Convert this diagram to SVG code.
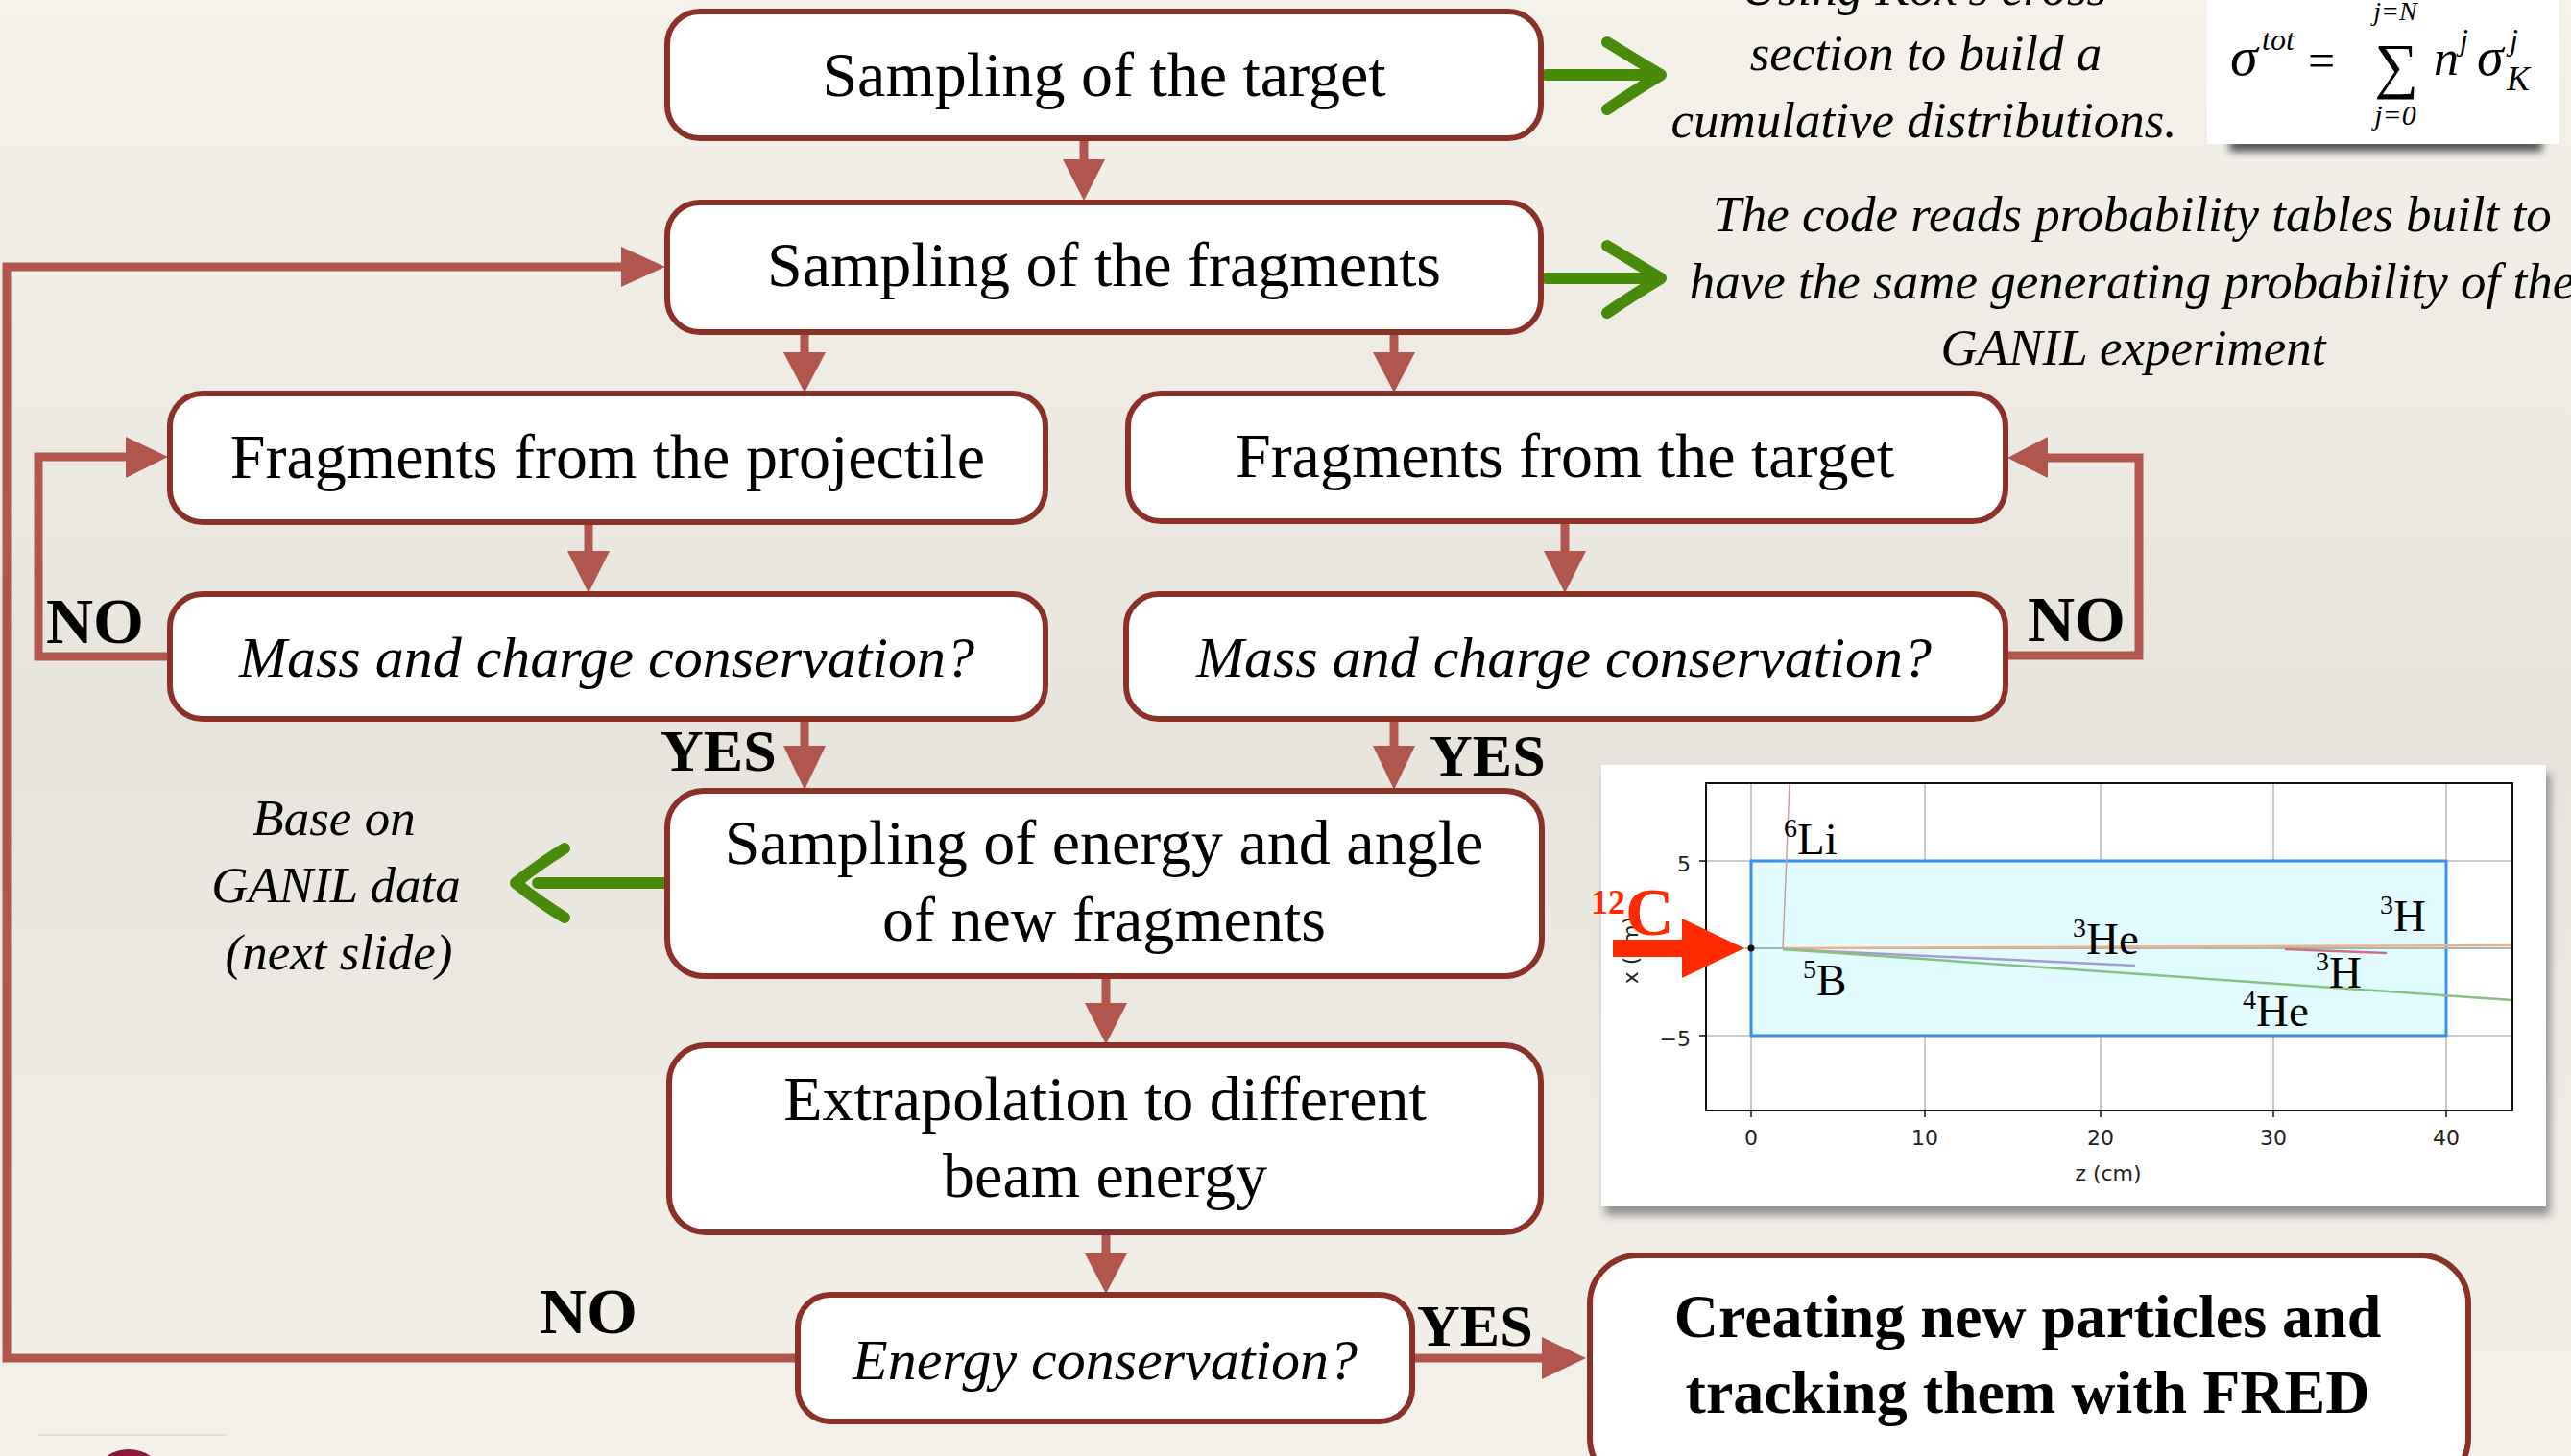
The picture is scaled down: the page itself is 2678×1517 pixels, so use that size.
<svg xmlns="http://www.w3.org/2000/svg" width="2678" height="1517" viewBox="0 0 2678 1517">
<defs>
<linearGradient id="bg" x1="0" y1="0" x2="0" y2="1">
<stop offset="0" stop-color="#F5F2EC"/>
<stop offset="0.5" stop-color="#E7E4DE"/>
<stop offset="1" stop-color="#F4F1EB"/>
</linearGradient>
<filter id="blur" x="-10%" y="-50%" width="120%" height="200%"><feGaussianBlur stdDeviation="4"/></filter>
<filter id="sh" x="-5%" y="-5%" width="110%" height="115%"><feGaussianBlur stdDeviation="5"/></filter>
<style>
.box{fill:#FFFFFF;stroke:#8A3129;stroke-width:6}
.t{font-family:"Liberation Serif",serif;font-size:66px;fill:#000;text-anchor:middle}
.tb{font-family:"Liberation Serif",serif;font-size:64px;font-weight:bold;fill:#000;text-anchor:middle}
.ti{font-family:"Liberation Serif",serif;font-size:60px;font-style:italic;fill:#000;text-anchor:middle}
.lab{font-family:"Liberation Serif",serif;font-size:62px;font-weight:bold;fill:#000}
.note{font-family:"Liberation Serif",serif;font-size:53px;font-style:italic;fill:#000;text-anchor:middle}
.con{fill:none;stroke:#B1564E;stroke-width:9}
.head{fill:#B1564E}
.green{fill:none;stroke:#4A8A0B;stroke-width:12;stroke-linecap:round;stroke-linejoin:round}
.tick{font-family:"DejaVu Sans",sans-serif;font-size:22px;fill:#222}
.iso{font-family:"Liberation Serif",serif;font-size:47px;fill:#000}
.grid{stroke:#B8B8B8;stroke-width:1.5}
.m{font-family:"Liberation Serif",serif;fill:#000}
</style>
</defs>
<rect x="0" y="0" width="2678" height="1517" fill="url(#bg)"/>

<g id="connectors">
<path class="con" d="M1129 144 V170"/><polygon class="head" points="1107,166 1151,166 1129,209"/>
<path class="con" d="M838 346 V370"/><polygon class="head" points="816,367 860,367 838,409"/>
<path class="con" d="M1452 346 V370"/><polygon class="head" points="1430,367 1474,367 1452,409"/>
<path class="con" d="M613 544 V578"/><polygon class="head" points="591,574 635,574 613,618"/>
<path class="con" d="M1630 543 V578"/><polygon class="head" points="1608,574 1652,574 1630,618"/>
<path class="con" d="M838 749 V780"/><polygon class="head" points="816,777 860,777 838,823"/>
<path class="con" d="M1452 749 V780"/><polygon class="head" points="1430,777 1474,777 1452,823"/>
<path class="con" d="M1152 1017 V1048"/><polygon class="head" points="1130,1045 1174,1045 1152,1088"/>
<path class="con" d="M1152 1284 V1310"/><polygon class="head" points="1130,1306 1174,1306 1152,1348"/>
<path class="con" d="M1471 1415 H1610"/><polygon class="head" points="1606,1393 1606,1437 1652,1415"/>
<path class="con" d="M831 1415 H7 V278 H650"/><polygon class="head" points="647,257 647,299 693,278"/>
<path class="con" d="M177 684 H40 V476 H134"/><polygon class="head" points="131,455 131,498 175,476"/>
<path class="con" d="M2089 683 H2228 V477 H2130"/><polygon class="head" points="2133,455 2133,498 2091,477"/>
<text class="lab" x="48" y="670" style="font-size:68px">NO</text>
<text class="lab" x="2112" y="668" style="font-size:68px">NO</text>
<text class="lab" x="562" y="1389" style="font-size:68px">NO</text>
<text class="lab" x="688" y="803" style="font-size:62px">YES</text>
<text class="lab" x="1489" y="808" style="font-size:62px">YES</text>
<text class="lab" x="1476" y="1402" style="font-size:62px">YES</text>
</g>

<g id="green-arrows">
<path class="green" d="M1610 78 H1712"/>
<path class="green" d="M1674 44 Q1700 60 1730 78 Q1700 96 1674 114"/>
<path class="green" d="M1610 290 H1712"/>
<path class="green" d="M1674 256 Q1700 272 1730 290 Q1700 308 1674 326"/>
<path class="green" d="M693 920 H560"/>
<path class="green" d="M588 884 Q562 900 537 920 Q562 940 588 956"/>
</g>

<g id="n-sampling-target"><rect class="box" x="695" y="12" width="910" height="132" rx="34"/><text class="t" x="1150" y="100">Sampling of the target</text></g>
<g id="n-sampling-fragments"><rect class="box" x="695" y="211" width="910" height="135" rx="34"/><text class="t" x="1150" y="298">Sampling of the fragments</text></g>
<g id="n-frag-projectile"><rect class="box" x="177" y="410" width="912" height="134" rx="34"/><text class="t" x="633" y="498">Fragments from the projectile</text></g>
<g id="n-frag-target"><rect class="box" x="1175" y="410" width="914" height="133" rx="34"/><text class="t" x="1630" y="497">Fragments from the target</text></g>
<g id="n-mass-left"><rect class="box" x="177" y="619" width="912" height="130" rx="34"/><text class="ti" x="632" y="705">Mass and charge conservation?</text></g>
<g id="n-mass-right"><rect class="box" x="1173" y="619" width="916" height="130" rx="34"/><text class="ti" x="1629" y="705">Mass and charge conservation?</text></g>
<g id="n-energy-angle"><rect class="box" x="695" y="824" width="911" height="193" rx="38"/><text class="t" x="1150" y="900">Sampling of energy and angle</text><text class="t" x="1150" y="980">of new fragments</text></g>
<g id="n-extrapolation"><rect class="box" x="697" y="1089" width="908" height="195" rx="38"/><text class="t" x="1151" y="1167">Extrapolation to different</text><text class="t" x="1151" y="1247">beam energy</text></g>
<g id="n-energy-cons"><rect class="box" x="831" y="1349" width="640" height="132" rx="34"/><text class="ti" x="1151" y="1437">Energy conservation?</text></g>
<g id="n-creating"><rect class="box" x="1656" y="1308" width="915" height="240" rx="50"/><text class="tb" x="2112" y="1393">Creating new particles and</text><text class="tb" x="2112" y="1472">tracking them with FRED</text></g>

<g id="notes">
<text class="note" x="2004" y="5">Using Kox's cross</text>
<text class="note" x="2006" y="73">section to build a</text>
<text class="note" x="2004" y="143">cumulative distributions.</text>
<text class="note" x="2221" y="241">The code reads probability tables built to</text>
<text class="note" x="2221" y="311">have the same generating probability of the</text>
<text class="note" x="2222" y="380">GANIL experiment</text>
<text class="note" x="348" y="870">Base on</text>
<text class="note" x="350" y="940">GANIL data</text>
<text class="note" x="353" y="1010">(next slide)</text>
</g>

<g id="formula">
<rect x="2322" y="142" width="326" height="16" fill="#555" filter="url(#blur)"/>
<rect x="2299" y="0" width="367" height="150" fill="#FFFFFF"/>
<text class="m" x="2323" y="78" font-size="58" font-style="italic">σ</text>
<text class="m" x="2356" y="52" font-size="32" font-style="italic">tot</text>
<text class="m" x="2404" y="80" font-size="50">=</text>
<text class="m" x="2496" y="90" font-size="64" text-anchor="middle">∑</text>
<text class="m" x="2495" y="21" font-size="28" font-style="italic" text-anchor="middle">j=N</text>
<text class="m" x="2495" y="130" font-size="30" font-style="italic" text-anchor="middle">j=0</text>
<text class="m" x="2535" y="78" font-size="52" font-style="italic">n</text>
<text class="m" x="2562" y="52" font-size="32" font-style="italic">j</text>
<text class="m" x="2580" y="78" font-size="56" font-style="italic">σ</text>
<text class="m" x="2614" y="52" font-size="32" font-style="italic">j</text>
<text class="m" x="2611" y="94" font-size="36" font-style="italic">K</text>
</g>

<g id="plot">
<rect x="1672" y="806" width="984" height="460" fill="#333" opacity="0.5" filter="url(#sh)"/>
<rect x="1668" y="797" width="984" height="460" fill="#FFFFFF"/>
<g class="grid">
<line x1="1824" y1="816" x2="1824" y2="1157"/><line x1="2005" y1="816" x2="2005" y2="1157"/><line x1="2188" y1="816" x2="2188" y2="1157"/><line x1="2368" y1="816" x2="2368" y2="1157"/><line x1="2548" y1="816" x2="2548" y2="1157"/>
<line x1="1777" y1="897" x2="2617" y2="897"/><line x1="1777" y1="988" x2="2617" y2="988"/><line x1="1777" y1="1079" x2="2617" y2="1079"/>
</g>
<rect x="1824" y="897" width="724" height="182" fill="#E1FBFE" stroke="#3D8FEA" stroke-width="3"/>
<line x1="1824" y1="988" x2="2617" y2="988" stroke="#9BB7C8" stroke-width="2"/>
<line x1="1857" y1="988" x2="2617" y2="985" stroke="#F0B080" stroke-width="2.5"/>
<line x1="2380" y1="989" x2="2486" y2="993" stroke="#D0707A" stroke-width="2.5"/>
<line x1="1857" y1="989" x2="2224" y2="1006" stroke="#A898D8" stroke-width="2.5"/>
<line x1="1857" y1="989" x2="2617" y2="1042" stroke="#88C080" stroke-width="2.5"/>
<line x1="1857" y1="988" x2="1864" y2="816" stroke="#C8A0A0" stroke-width="1.5"/>
<circle cx="1824" cy="988" r="3.5" fill="#111"/>
<rect x="1777" y="816" width="840" height="341" fill="none" stroke="#111" stroke-width="2"/>
<g stroke="#111" stroke-width="1.5">
<line x1="1824" y1="1157" x2="1824" y2="1164"/><line x1="2005" y1="1157" x2="2005" y2="1164"/><line x1="2188" y1="1157" x2="2188" y2="1164"/><line x1="2368" y1="1157" x2="2368" y2="1164"/><line x1="2548" y1="1157" x2="2548" y2="1164"/>
<line x1="1770" y1="897" x2="1777" y2="897"/><line x1="1770" y1="988" x2="1777" y2="988"/><line x1="1770" y1="1079" x2="1777" y2="1079"/>
</g>
<g class="tick" text-anchor="middle">
<text x="1824" y="1193">0</text><text x="2005" y="1193">10</text><text x="2188" y="1193">20</text><text x="2368" y="1193">30</text><text x="2548" y="1193">40</text>
<text x="2196" y="1230">z (cm)</text>
</g>
<text class="tick" x="1761" y="908" text-anchor="end">5</text>
<text class="tick" x="1761" y="1090" text-anchor="end">−5</text>
<text class="tick" x="0" y="0" text-anchor="middle" transform="translate(1706 990) rotate(-90)">x (cm)</text>
<text class="iso" x="1858" y="890"><tspan font-size="28" dy="-18">6</tspan><tspan dy="18">Li</tspan></text>
<text class="iso" x="2159" y="994"><tspan font-size="28" dy="-18">3</tspan><tspan dy="18">He</tspan></text>
<text class="iso" x="2479" y="970"><tspan font-size="28" dy="-18">3</tspan><tspan dy="18">H</tspan></text>
<text class="iso" x="2412" y="1029"><tspan font-size="28" dy="-18">3</tspan><tspan dy="18">H</tspan></text>
<text class="iso" x="1878" y="1037"><tspan font-size="28" dy="-18">5</tspan><tspan dy="18">B</tspan></text>
<text class="iso" x="2336" y="1069"><tspan font-size="28" dy="-18">4</tspan><tspan dy="18">He</tspan></text>
<polygon points="1680,979 1752,979 1752,957 1817,988 1752,1019 1752,997 1680,997" fill="#FF2A00"/>
<text x="1657" y="974" font-family="Liberation Serif, serif" font-size="70" font-weight="bold" fill="#FF2A00"><tspan font-size="36" dy="-22">12</tspan><tspan dy="22">C</tspan></text>
</g>

<g id="logo">
<line x1="40" y1="1495" x2="235" y2="1495" stroke="#DDD8D0" stroke-width="1.5"/>
<ellipse cx="134" cy="1532" rx="31" ry="22" fill="#8B1A3A"/>
</g>
</svg>
